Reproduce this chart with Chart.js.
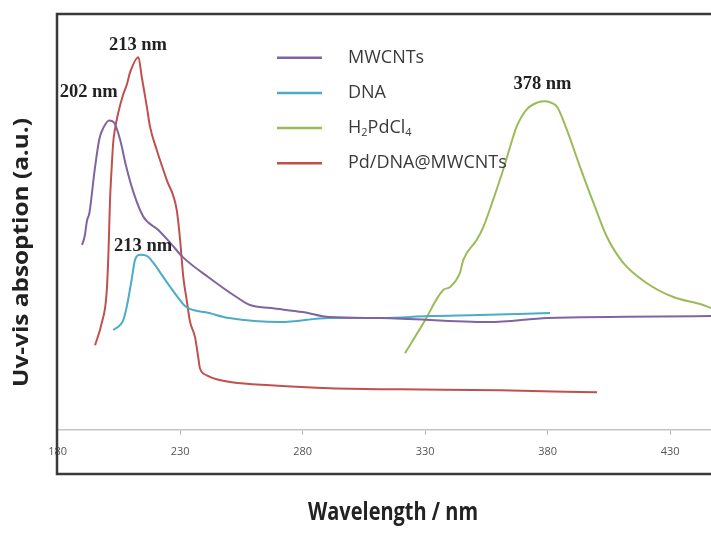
<!DOCTYPE html>
<html><head><meta charset="utf-8">
<script src="https://cdn.jsdelivr.net/npm/chart.js@4.4.0/dist/chart.umd.min.js"></script>
<style>html,body{margin:0;padding:0;background:#fff;}#wrap{width:711px;height:534px;}</style>
</head><body><div id="wrap"><canvas id="c" width="711" height="534"></canvas></div>
<script>
// ---- data (wavelength in nm, absorbance in arbitrary units) ----
const seriesNames = ['MWCNTs', 'DNA', 'H₂PdCl₄', 'Pd/DNA@MWCNTs'];

const mwcntX = [190,191,192,193,195,197,199,201,203,205.5,208,211,215,221,226,231,242,253,258.5,267,280,291,312,356,380,447];
const mwcntY = [1.84,1.92,2.08,2.16,2.56,2.89,3.02,3.08,3.06,2.89,2.62,2.36,2.12,1.99,1.86,1.72,1.51,1.32,1.24,1.21,1.17,1.12,1.11,1.07,1.11,1.13];

const dnaX = [202.7,206.8,208.2,210.2,211.6,213.6,216.4,219.1,223.1,226,229,232,237,240,250,271,291,312,332,352,381];
const dnaY = [0.99,1.09,1.22,1.49,1.69,1.74,1.73,1.66,1.52,1.42,1.32,1.23,1.18,1.17,1.11,1.07,1.11,1.11,1.13,1.14,1.16];

const pdclX = [321.8,329.3,337.4,340.2,344.2,345.6,351.1,353.8,357.8,361.9,366,367.4,371.5,376,379,382,384,387.8,393.2,398.7,404.2,410.9,420.4,431.3,442.2,446.7];
const pdclY = [0.76,1.06,1.39,1.42,1.56,1.69,1.89,2.02,2.29,2.59,2.92,3.02,3.19,3.26,3.27,3.25,3.21,2.99,2.62,2.26,1.92,1.66,1.46,1.32,1.25,1.21];

const pdX = [195.3,198.0,200.0,200.8,201.4,202.1,202.7,203.4,204.8,206.8,208.3,209.6,213,214.3,216.4,217.7,220.4,224.5,228.6,230.0,231.3,232.7,234.0,236.1,237.4,238.1,240.9,244.9,251.1,266.7,291.2,319.8,360.6,400.2];
const pdY = [0.84,1.06,1.36,1.79,2.29,2.62,2.86,2.99,3.16,3.34,3.44,3.56,3.71,3.52,3.22,3.02,2.79,2.49,2.19,1.89,1.52,1.29,1.08,0.92,0.72,0.61,0.54,0.50,0.47,0.44,0.41,0.40,0.39,0.37];

const xTicks = [180, 230, 280, 330, 380, 430];

const xTitle = 'Wavelength / nm';
const yTitle = 'Uv-vis absoption (a.u.)';

const peakText = ['213 nm', '202 nm', '213 nm', '378 nm'];
const peakX = [212.8, 192.7, 214.9, 377.9];
const peakY = [3.83, 3.36, 1.83, 3.44];

const colors = ['#8064a2', '#4bacc6', '#9bbb59', '#c0504d'];

function pts(xs, ys) { return xs.map((x, i) => ({ x: x, y: ys[i] })); }

function fitText(ctx, text, cx, cy, rot, len) {
  ctx.save();
  ctx.translate(cx, cy);
  ctx.rotate(rot);
  const w = ctx.measureText(text).width;
  ctx.scale(len / w, 1);
  ctx.textAlign = 'center';
  ctx.textBaseline = 'middle';
  ctx.fillText(text, 0, 0);
  ctx.restore();
}

const frame = {
  id: 'frame',
  afterDraw(chart) {
    const ctx = chart.ctx;
    const xs = chart.scales.x, ys = chart.scales.y;
    ctx.save();
    // box
    ctx.strokeStyle = '#3a3a3a';
    ctx.lineWidth = 2.5;
    ctx.strokeRect(57, 14, 680, 460);
    // axis titles
    ctx.fillStyle = '#222';
    ctx.font = 'bold 22px "Open Sans"';
    fitText(ctx, yTitle, 22, 252.5, -Math.PI / 2, 269);
    ctx.font = 'bold 25px "Open Sans"';
    fitText(ctx, xTitle, 393, 513, 0, 170);
    // legend
    chart.data.datasets.forEach((ds, i) => {
      const y = 57.7 + i * 35.2;
      ctx.strokeStyle = ds.borderColor;
      ctx.lineWidth = 2.5;
      ctx.beginPath();
      ctx.moveTo(277, y);
      ctx.lineTo(322, y);
      ctx.stroke();
      ctx.fillStyle = '#3a3a3a';
      ctx.textAlign = 'left';
      ctx.textBaseline = 'middle';
      let x = 348;
      const sub = { '₂': '2', '₄': '4' };
      for (const ch of ds.label) {
        if (sub[ch]) {
          ctx.font = '11px "Open Sans"';
          ctx.fillText(sub[ch], x, y + 5);
          x += ctx.measureText(sub[ch]).width;
        } else {
          ctx.font = '18px "Open Sans"';
          ctx.fillText(ch, x, y);
          x += ctx.measureText(ch).width;
        }
      }
    });
    // peak labels
    ctx.font = 'bold 18.5px "Liberation Serif"';
    ctx.fillStyle = '#222';
    ctx.textAlign = 'center';
    ctx.textBaseline = 'middle';
    peakText.forEach((t, i) => {
      ctx.fillText(t, xs.getPixelForValue(peakX[i]), ys.getPixelForValue(peakY[i]));
    });
    ctx.restore();
  }
};

const xs = [mwcntX, dnaX, pdclX, pdX];
const ysArr = [mwcntY, dnaY, pdclY, pdY];

new Chart(document.getElementById('c'), {
  type: 'line',
  data: {
    datasets: seriesNames.map((n, i) => ({
      label: n,
      data: pts(xs[i], ysArr[i]),
      borderColor: colors[i],
      borderWidth: 2,
      pointRadius: 0,
      cubicInterpolationMode: 'monotone',
      fill: false
    }))
  },
  options: {
    responsive: false,
    animation: false,
    devicePixelRatio: 1,
    layout: { padding: { left: 57.6, top: 14, right: 0, bottom: 64.3 } },
    plugins: { legend: { display: false }, tooltip: { enabled: false } },
    scales: {
      x: {
        type: 'linear',
        min: 180,
        max: 446.7,
        afterBuildTicks: s => { s.ticks = xTicks.map(v => ({ value: v })); },
        grid: { display: true, drawOnChartArea: false, drawTicks: true, tickLength: 5, color: '#b0b0b0' },
        border: { display: true, color: '#c4c4c4', width: 1.5 },
        ticks: { font: { family: 'Open Sans', size: 11 }, color: '#555', padding: 11, maxRotation: 0 },
        title: { display: false }
      },
      y: { type: 'linear', min: 0, max: 4.14, display: false }
    }
  },
  plugins: [frame]
});
</script></body></html>
